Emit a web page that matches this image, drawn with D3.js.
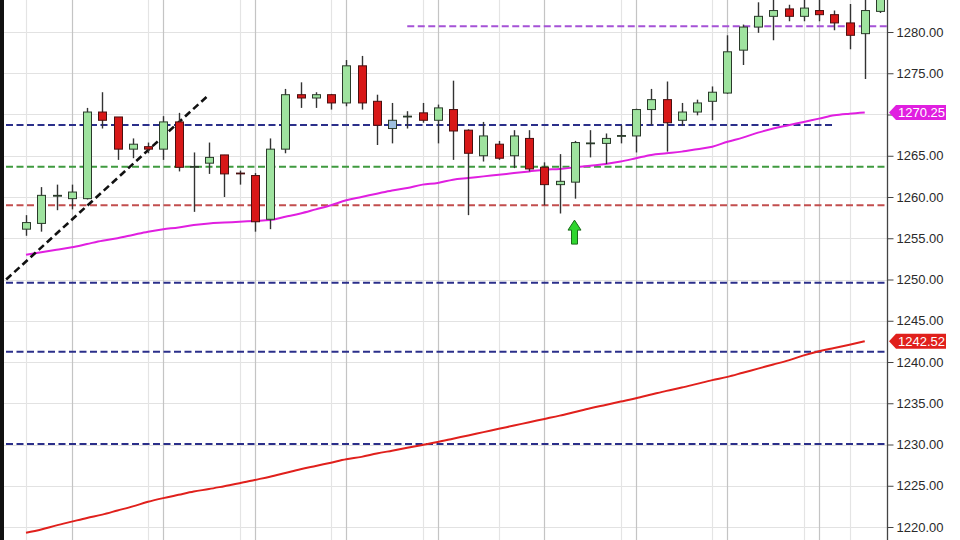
<!DOCTYPE html>
<html><head><meta charset="utf-8">
<script src="https://cdn.jsdelivr.net/npm/d3@7"></script>
<style>
html,body{margin:0;padding:0;background:#fff;}
svg{display:block;font-family:"Liberation Sans",Arial,sans-serif;}
</style></head>
<body>
<svg id="chart" width="960" height="540"></svg>
<script>
// ---- data ----
const opens  = [1256.1,1256.8,1260.1,1259.8,1259.8,1270.3,1269.7,1265.8,1266.1,1265.8,
                1269.1,1263.6,1264.1,1265.1,1262.9,1262.6,1257.3,1265.8,1272.4,1272.0,
                1272.4,1271.4,1275.9,1271.6,1269.3,1269.7,1270.2,1269.3,1270.6,1268.1,
                1265.0,1266.4,1265.0,1267.1,1263.6,1261.5,1261.8,1266.5,1266.5,1267.4,
                1267.4,1270.6,1271.8,1269.3,1270.3,1271.6,1272.6,1277.8,1280.6,1281.9,
                1282.8,1281.9,1282.6,1282.1,1281.1,1279.8,1282.5];
const highs  = [1257.8,1261.2,1261.5,1261.5,1270.8,1272.7,1269.7,1267.1,1266.6,1269.8,
                1270.2,1265.4,1266.6,1265.1,1263.2,1262.9,1267.1,1273.1,1273.9,1272.7,
                1272.5,1276.6,1277.1,1272.4,1271.4,1270.4,1271.4,1271.2,1274.1,1268.2,
                1269.1,1266.8,1268.1,1268.1,1264.2,1265.2,1266.8,1268.1,1267.7,1268.7,
                1270.7,1273.1,1274.0,1271.4,1271.8,1273.4,1279.6,1280.9,1283.6,1284.5,
                1283.3,1284.2,1284.2,1282.6,1283.4,1284.2,1285.0];
const lows   = [1255.3,1255.8,1258.4,1258.5,1259.7,1268.3,1264.5,1264.7,1265.3,1264.5,
                1263.1,1258.2,1262.8,1260.0,1261.5,1255.8,1256.1,1265.3,1270.8,1270.8,
                1270.6,1271.0,1270.6,1266.3,1266.5,1268.3,1269.0,1266.5,1264.5,1257.8,
                1264.3,1264.5,1263.5,1263.1,1259.0,1258.0,1259.8,1264.8,1264.0,1266.5,
                1265.4,1268.7,1265.5,1268.6,1269.9,1269.3,1272.5,1276.0,1279.9,1279.0,
                1281.3,1281.3,1281.3,1280.2,1277.9,1274.3,1282.3];
const closes = [1256.9,1260.2,1260.2,1260.6,1270.3,1269.3,1265.8,1266.4,1265.8,1269.1,
                1263.6,1263.7,1264.8,1262.8,1262.85,1257.0,1265.8,1272.4,1272.0,1272.4,
                1271.4,1275.9,1271.4,1268.7,1268.3,1269.8,1269.3,1270.8,1268.0,1265.3,
                1267.4,1264.7,1267.4,1263.4,1261.5,1261.9,1266.6,1266.55,1267.1,1267.45,
                1270.6,1271.8,1269.0,1270.3,1271.4,1272.7,1277.6,1280.6,1281.9,1282.6,
                1281.9,1282.9,1282.1,1281.1,1279.6,1282.6,1284.5];
const highlightBars = [24];

const maFast = [1253.0,1253.3,1253.6,1253.9,1254.3,1254.7,1255.0,1255.4,1255.8,1256.1,
                1256.3,1256.6,1256.8,1256.9,1257.0,1257.1,1257.2,1257.6,1258.0,1258.5,
                1259.0,1259.6,1260.0,1260.4,1260.8,1261.1,1261.5,1261.7,1262.1,1262.3,
                1262.5,1262.7,1262.9,1263.1,1263.3,1263.4,1263.6,1263.8,1264.0,1264.3,
                1264.7,1265.1,1265.3,1265.5,1265.8,1266.1,1266.7,1267.2,1267.8,1268.3,
                1268.7,1269.1,1269.5,1269.9,1270.1,1270.25];
const maSlow = [1219.3,1219.7,1220.2,1220.65,1221.1,1221.5,1222.0,1222.5,1223.05,1223.5,
                1223.9,1224.3,1224.6,1224.95,1225.3,1225.7,1226.1,1226.55,1227.0,1227.4,
                1227.8,1228.2,1228.5,1228.9,1229.25,1229.6,1229.95,1230.3,1230.7,1231.1,
                1231.5,1231.9,1232.3,1232.7,1233.1,1233.5,1233.95,1234.4,1234.8,1235.2,
                1235.6,1236.05,1236.5,1236.9,1237.35,1237.8,1238.2,1238.7,1239.2,1239.7,
                1240.2,1240.8,1241.3,1241.7,1242.1,1242.52];

const levelPrices = [1280.7, 1268.73, 1263.67, 1259.0, 1249.6, 1241.25, 1230.06];
const levelStarts = [25, null, null, null, null, null, null];
const levelEnds   = [null, 53, null, null, null, null, null];
const levelKinds  = ["purple","navy","green","brown","navy","navy","navy"];

const trendIdx    = [-1.3, 12.0];
const trendPrice  = [1250.0, 1272.4];

const arrowIdx = 36, arrowPrice = 1257.2;

const tickValues = [1220,1225,1230,1235,1240,1245,1250,1255,1260,1265,1270,1275,1280];
const hideTickLabels = [1270];
const minorGridIdx = [0,8,14,20,26,31,39,45,51,54];
const majorGridIdx = [3,9,15,21,27,34,40,46,52];
const lastLabels = [{v:1270.25, kind:"magenta"}, {v:1242.52, kind:"red"}];

// ---- styles ----
const colors = {purple:"#a552d6", navy:"#2b2f8a", green:"#3f9a3f", brown:"#c24e4e",
                magenta:"#e01fe0", red:"#e0201c"};

// ---- scales ----
const W = 960, H = 540, plotL = 4, plotR = 887.5;
const x = d3.scaleLinear().domain([0, 56]).range([26, 880]);
const y = d3.scaleLinear().domain([1220, 1280]).range([527, 32]);

const svg = d3.select("#chart");
svg.append("rect").attr("width", W).attr("height", H).attr("fill", "#fff");
svg.append("defs").append("clipPath").attr("id","plot")
  .append("rect").attr("x", plotL).attr("y", 0).attr("width", plotR - plotL).attr("height", H);

const g = svg.append("g").attr("clip-path", "url(#plot)");

// gridlines
g.selectAll(".hg").data(tickValues).join("line")
  .attr("x1", plotL).attr("x2", plotR)
  .attr("y1", d => Math.round(y(d)) + 0.5).attr("y2", d => Math.round(y(d)) + 0.5)
  .attr("stroke", "#e2e2e2").attr("stroke-width", 1);
g.selectAll(".vgm").data(minorGridIdx).join("line")
  .attr("x1", d => Math.round(x(d)) + 0.5).attr("x2", d => Math.round(x(d)) + 0.5)
  .attr("y1", 0).attr("y2", H).attr("stroke", "#e4e4e4").attr("stroke-width", 1.2);
g.selectAll(".vgM").data(majorGridIdx).join("line")
  .attr("x1", d => Math.round(x(d)) + 0.5).attr("x2", d => Math.round(x(d)) + 0.5)
  .attr("y1", 0).attr("y2", H).attr("stroke", "#c4c4c4").attr("stroke-width", 1.2);

// horizontal levels
levelPrices.forEach((p, i) => {
  const xs = levelStarts[i] == null ? plotL + 2 : x(levelStarts[i]);
  const xe = levelEnds[i] == null ? plotR : x(levelEnds[i]);
  g.append("line").attr("x1", xs).attr("x2", xe).attr("y1", y(p)).attr("y2", y(p))
    .attr("stroke", colors[levelKinds[i]]).attr("stroke-width", 2)
    .attr("stroke-dasharray", "7,3.5");
});

// moving averages
const lineGen = d3.line().x((d, i) => x(i)).y(d => y(d)).curve(d3.curveMonotoneX);
g.append("path").attr("d", lineGen(maSlow)).attr("fill", "none")
  .attr("stroke", colors.red).attr("stroke-width", 2);
g.append("path").attr("d", lineGen(maFast)).attr("fill", "none")
  .attr("stroke", colors.magenta).attr("stroke-width", 2);

// trend line
g.append("line")
  .attr("x1", x(trendIdx[0])).attr("y1", y(trendPrice[0]))
  .attr("x2", x(trendIdx[1])).attr("y2", y(trendPrice[1]))
  .attr("stroke", "#111").attr("stroke-width", 2.6).attr("stroke-dasharray", "7,4");

// candles
const bw = 8;
const idx = d3.range(opens.length);
const cg = g.append("g");
cg.selectAll(".wick").data(idx).join("line")
  .attr("x1", i => Math.round(x(i)) + 0.5).attr("x2", i => Math.round(x(i)) + 0.5)
  .attr("y1", i => y(highs[i])).attr("y2", i => y(lows[i]))
  .attr("stroke", "#333").attr("stroke-width", 1.4);
cg.selectAll(".body").data(idx).join("rect")
  .attr("x", i => Math.round(x(i)) + 0.5 - bw / 2)
  .attr("width", bw)
  .attr("y", i => y(Math.max(opens[i], closes[i])))
  .attr("height", i => Math.max(0.8, Math.abs(y(opens[i]) - y(closes[i]))))
  .attr("fill", i => highlightBars.includes(i) ? "#9dbfe0" : (closes[i] >= opens[i] ? "#9fe39f" : "#d81818"))
  .attr("stroke", i => closes[i] >= opens[i] || highlightBars.includes(i) ? "#2a3a2a" : "#4a1010")
  .attr("stroke-width", 1);

// arrow
const ax = x(arrowIdx) - 0.5, ay = y(arrowPrice);
g.append("path")
  .attr("d", `M${ax},${ay} L${ax+6.5},${ay+10} L${ax+3},${ay+10} L${ax+3},${ay+24} L${ax-3},${ay+24} L${ax-3},${ay+10} L${ax-6.5},${ay+10} Z`)
  .attr("fill", "#2fd62f").attr("stroke", "#1a6a1a").attr("stroke-width", 1);

// left border
svg.append("rect").attr("x", 0).attr("y", 0).attr("width", 4).attr("height", H).attr("fill", "#111");

// right axis
const axis = d3.axisRight(y).tickValues(tickValues).tickSize(6).tickPadding(3)
  .tickFormat(d => hideTickLabels.includes(d) ? "" : d3.format(".2f")(d));
const ag = svg.append("g").attr("transform", `translate(${plotR},0)`).call(axis);
ag.select(".domain").remove();
ag.selectAll(".tick line").attr("stroke", "#444");
ag.selectAll(".tick text").attr("fill", "#2a2a2a").attr("font-size", 13)
  .attr("font-family", '"Liberation Sans",Arial,sans-serif');
svg.append("line").attr("x1", plotR).attr("x2", plotR).attr("y1", 0).attr("y2", H)
  .attr("stroke", "#444").attr("stroke-width", 1.3);

// last value labels
lastLabels.forEach(l => {
  const cy = y(l.v), x0 = plotR + 1.5, hh = 7.5;
  svg.append("path")
    .attr("d", `M${x0},${cy} L${x0+7},${cy-hh} L${x0+57},${cy-hh} L${x0+57},${cy+hh} L${x0+7},${cy+hh} Z`)
    .attr("fill", colors[l.kind]);
  svg.append("text").attr("x", x0 + 9).attr("y", cy + 4.6)
    .attr("fill", "#fff").attr("font-size", 13).text(l.v.toFixed(2));
});
</script>
</body></html>
